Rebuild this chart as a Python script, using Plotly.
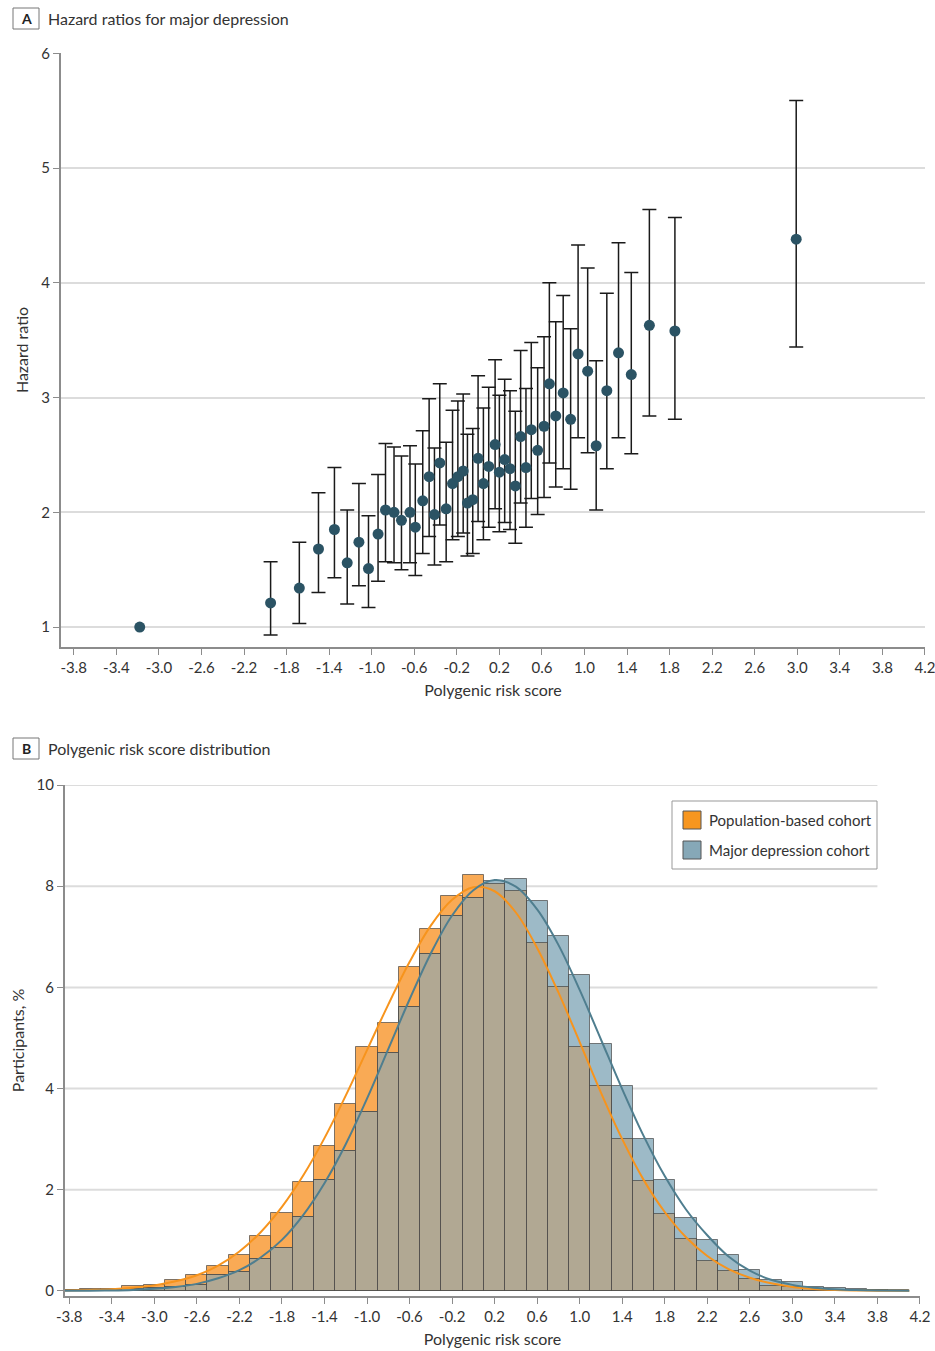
import plotly.graph_objects as go

# ---------------- Panel A data ----------------
prs_a = [-3.18, -1.95, -1.68, -1.50, -1.35, -1.23, -1.12, -1.03, -0.94, -0.87,
         -0.79, -0.72, -0.64, -0.59, -0.52, -0.46, -0.41, -0.36, -0.30, -0.24,
         -0.19, -0.14, -0.10, -0.05, 0.00, 0.05, 0.10, 0.16, 0.20, 0.25,
         0.30, 0.35, 0.40, 0.45, 0.50, 0.56, 0.62, 0.67, 0.73, 0.80,
         0.87, 0.94, 1.03, 1.11, 1.21, 1.32, 1.44, 1.61, 1.85, 2.99]
hazard_ratio = [1.00, 1.21, 1.34, 1.68, 1.85, 1.56, 1.74, 1.51, 1.81, 2.02,
                2.00, 1.93, 2.00, 1.87, 2.10, 2.31, 1.98, 2.43, 2.03, 2.25,
                2.31, 2.36, 2.08, 2.11, 2.47, 2.25, 2.40, 2.59, 2.35, 2.46,
                2.38, 2.23, 2.66, 2.39, 2.72, 2.54, 2.75, 3.12, 2.84, 3.04,
                2.81, 3.38, 3.23, 2.58, 3.06, 3.39, 3.20, 3.63, 3.58, 4.38]
ci_low = [None, 0.93, 1.03, 1.30, 1.43, 1.20, 1.36, 1.17, 1.40, 1.57,
          1.56, 1.50, 1.56, 1.45, 1.64, 1.79, 1.54, 1.89, 1.57, 1.76,
          1.79, 1.82, 1.62, 1.64, 1.92, 1.76, 1.87, 2.03, 1.83, 1.91,
          1.85, 1.73, 2.08, 1.87, 2.12, 1.98, 2.13, 2.43, 2.22, 2.38,
          2.20, 2.65, 2.52, 2.02, 2.38, 2.65, 2.51, 2.84, 2.81, 3.44]
ci_high = [None, 1.57, 1.74, 2.17, 2.39, 2.02, 2.25, 1.97, 2.33, 2.60,
           2.57, 2.49, 2.58, 2.42, 2.71, 2.99, 2.56, 3.12, 2.61, 2.89,
           2.97, 3.03, 2.68, 2.73, 3.19, 2.91, 3.09, 3.33, 3.02, 3.16,
           3.06, 2.88, 3.41, 3.08, 3.48, 3.26, 3.53, 4.00, 3.66, 3.89,
           3.60, 4.33, 4.13, 3.32, 3.91, 4.35, 4.09, 4.64, 4.57, 5.59]

# ---------------- Panel B data ----------------
bin_centers = [-3.8, -3.6, -3.4, -3.2, -3.0, -2.8, -2.6, -2.4, -2.2, -2.0,
               -1.8, -1.6, -1.4, -1.2, -1.0, -0.8, -0.6, -0.4, -0.2, 0.0,
               0.2, 0.4, 0.6, 0.8, 1.0, 1.2, 1.4, 1.6, 1.8, 2.0,
               2.2, 2.4, 2.6, 2.8, 3.0, 3.2, 3.4, 3.6, 3.8, 4.0]
population_pct = [0.02, 0.03, 0.04, 0.09, 0.12, 0.21, 0.32, 0.49, 0.72, 1.08,
                  1.54, 2.15, 2.87, 3.70, 4.82, 5.30, 6.40, 7.15, 7.80, 8.22,
                  8.05, 7.91, 6.88, 6.01, 4.82, 4.06, 3.00, 2.17, 1.52, 1.03,
                  0.59, 0.39, 0.23, 0.10, 0.07, 0.04, 0.02, 0.01, 0.01, 0.005]
depression_pct = [0.01, 0.01, 0.02, 0.03, 0.05, 0.08, 0.11, 0.31, 0.37, 0.63,
                  0.84, 1.46, 2.19, 2.77, 3.53, 4.70, 5.61, 6.65, 7.41, 7.77,
                  8.10, 8.14, 7.70, 7.02, 6.25, 4.88, 4.06, 3.00, 2.20, 1.44,
                  1.00, 0.71, 0.41, 0.22, 0.17, 0.08, 0.05, 0.03, 0.02, 0.01]

curve_x = [-3.84, -3.6, -3.4, -3.2, -3.0, -2.8, -2.6, -2.4, -2.2, -2.0,
           -1.8, -1.6, -1.4, -1.2, -1.0, -0.8, -0.6, -0.4, -0.2, 0.0,
           0.2, 0.4, 0.6, 0.8, 1.0, 1.2, 1.4, 1.6, 1.8, 2.0,
           2.2, 2.4, 2.6, 2.8, 3.0, 3.2, 3.4, 3.6, 3.8, 4.1]
population_curve = [0.008, 0.02, 0.035, 0.065, 0.11, 0.19, 0.31, 0.50, 0.78, 1.16,
                    1.66, 2.28, 3.02, 3.86, 4.76, 5.66, 6.50, 7.22, 7.73, 7.98,
                    7.90, 7.48, 6.78, 5.90, 4.92, 3.92, 3.00, 2.20, 1.56, 1.06,
                    0.69, 0.43, 0.26, 0.15, 0.08, 0.04, 0.02, 0.01, 0.005, 0.002]
depression_curve = [0.002, 0.005, 0.010, 0.021, 0.041, 0.078, 0.14, 0.25, 0.41, 0.66,
                    1.01, 1.50, 2.13, 2.90, 3.80, 4.78, 5.76, 6.67, 7.42, 7.92,
                    8.12, 7.99, 7.54, 6.84, 5.95, 4.97, 3.99, 3.07, 2.27, 1.61,
                    1.10, 0.68, 0.40, 0.22, 0.12, 0.065, 0.035, 0.018, 0.009, 0.003]

x_tick_vals = [-3.8, -3.4, -3.0, -2.6, -2.2, -1.8, -1.4, -1.0, -0.6, -0.2,
               0.2, 0.6, 1.0, 1.4, 1.8, 2.2, 2.6, 3.0, 3.4, 3.8, 4.2]
x_tick_text = ["-3.8", "-3.4", "-3.0", "-2.6", "-2.2", "-1.8", "-1.4", "-1.0", "-0.6", "-0.2",
               "0.2", "0.6", "1.0", "1.4", "1.8", "2.2", "2.6", "3.0", "3.4", "3.8", "4.2"]
hr_ticks = [1, 2, 3, 4, 5, 6]
pct_ticks = [0, 2, 4, 6, 8, 10]
legend_names = ["Population-based cohort", "Major depression cohort"]
panel_titles = ["Hazard ratios for major depression", "Polygenic risk score distribution"]

# ---------------- styling ----------------
FONT = "Lato"
TXT = "#333333"
AXC = "#8c8c8c"
GRID = "#dcdcdc"
ORANGE_LINE = "#F7941D"
BLUE_LINE = "#4F7E8F"
ORANGE_FILL = "#F9AA55"
BLUE_FILL = "#9DBAC7"
OVERLAP_FILL = "#B1A893"
BAR_EDGE = "rgba(60,60,60,0.65)"
W, H = 935, 1351


def px(x):
    return x / W


def py(y):
    return 1 - y / H


fig = go.Figure()

# "NaN" strings make plotly skip the error bar of the reference group
err_plus = ["NaN" if h is None else h - m for h, m in zip(ci_high, hazard_ratio)]
err_minus = ["NaN" if l is None else m - l for l, m in zip(ci_low, hazard_ratio)]

fig.add_trace(go.Scatter(
    x=prs_a, y=hazard_ratio, mode="markers",
    marker=dict(size=11, color="#2B5364", line=dict(width=0)),
    error_y=dict(type="data", symmetric=False, array=err_plus, arrayminus=err_minus,
                 color="#1a1a1a", thickness=1.5, width=7),
    xaxis="x", yaxis="y", showlegend=False,
))

overlap = [min(a, b) for a, b in zip(population_pct, depression_pct)]
fig.add_trace(go.Bar(x=bin_centers, y=population_pct, width=0.2, name=legend_names[0],
                     marker=dict(color=ORANGE_FILL, line=dict(color=BAR_EDGE, width=1)),
                     xaxis="x2", yaxis="y2", showlegend=False))
fig.add_trace(go.Bar(x=bin_centers, y=depression_pct, width=0.2, name=legend_names[1],
                     marker=dict(color=BLUE_FILL, line=dict(color=BAR_EDGE, width=1)),
                     xaxis="x2", yaxis="y2", showlegend=False))
fig.add_trace(go.Bar(x=bin_centers, y=overlap, width=0.2, name="overlap",
                     marker=dict(color=OVERLAP_FILL, line=dict(color=BAR_EDGE, width=1)),
                     xaxis="x2", yaxis="y2", showlegend=False))
fig.add_trace(go.Scatter(x=curve_x, y=population_curve, mode="lines", line_shape="spline",
                         line=dict(color=ORANGE_LINE, width=2), xaxis="x2", yaxis="y2",
                         showlegend=False))
fig.add_trace(go.Scatter(x=curve_x, y=depression_curve, mode="lines", line_shape="spline",
                         line=dict(color=BLUE_LINE, width=2), xaxis="x2", yaxis="y2",
                         showlegend=False))

tickfont = dict(family=FONT, size=15, color=TXT)
titlefont = dict(family=FONT, size=16, color=TXT)
common_x = dict(tickvals=x_tick_vals, ticktext=x_tick_text, showgrid=False, zeroline=False,
                showline=True, linecolor=AXC, linewidth=2, ticks="outside", ticklen=6,
                tickcolor=AXC, tickwidth=1, tickfont=tickfont, automargin=False,
                ticklabeloverflow="allow")
common_y = dict(zeroline=False, showline=True, linecolor=AXC, linewidth=2,
                ticks="outside", ticklen=6, tickcolor=AXC, tickwidth=1, tickfont=tickfont,
                automargin=False)

shapes = []
for v in pct_ticks[1:]:
    shapes.append(dict(type="line", xref="x2", yref="y2", x0=-3.84, x1=3.8, y0=v, y1=v,
                       line=dict(color=GRID, width=2), layer="below"))

annotations = []
# panel labels
for letter, title, ytop in [("A", panel_titles[0], 8), ("B", panel_titles[1], 738)]:
    shapes.append(dict(type="rect", xref="paper", yref="paper", x0=px(13), x1=px(39),
                       y0=py(ytop + 21), y1=py(ytop), line=dict(color="#777777", width=1)))
    annotations.append(dict(text="<b>" + letter + "</b>", xref="paper", yref="paper",
                            x=px(26), y=py(ytop + 10.5), showarrow=False,
                            xanchor="center", yanchor="middle",
                            font=dict(family=FONT, size=14, color="#222222")))
    annotations.append(dict(text=title, xref="paper", yref="paper", x=px(46), y=py(ytop + 10.5),
                            showarrow=False, xanchor="left", yanchor="middle",
                            font=dict(family=FONT, size=16, color=TXT)))

# legend box
shapes.append(dict(type="rect", xref="paper", yref="paper", x0=px(672), x1=px(877),
                   y0=py(869), y1=py(801), line=dict(color="#999999", width=1),
                   fillcolor="white"))
for i, (name, col) in enumerate(zip(legend_names, ["#F7961F", "#86A8B7"])):
    yc = 820 + 30 * i
    shapes.append(dict(type="rect", xref="paper", yref="paper", x0=px(683), x1=px(701),
                       y0=py(yc + 9), y1=py(yc - 9), fillcolor=col,
                       line=dict(color="#555555", width=1)))
    annotations.append(dict(text=name, xref="paper", yref="paper", x=px(707), y=py(yc),
                            showarrow=False, xanchor="left", yanchor="middle",
                            font=dict(family=FONT, size=15, color=TXT)))

fig.update_layout(
    width=W, height=H, margin=dict(l=0, r=0, t=0, b=0, autoexpand=False),
    paper_bgcolor="white", plot_bgcolor="white",
    barmode="overlay", bargap=0,
    font=dict(family=FONT, color=TXT),
    xaxis=dict(domain=[px(61), px(925)], anchor="y", range=[-3.92, 4.2005],
               title=dict(text="Polygenic risk score", font=titlefont, standoff=10), **common_x),
    yaxis=dict(domain=[py(647), py(53)], anchor="x", range=[0.826, 6.003],
               tickvals=hr_ticks, showgrid=True, gridcolor=GRID, gridwidth=2,
               title=dict(text="Hazard ratio", font=titlefont, standoff=9), **common_y),
    xaxis2=dict(domain=[px(65), px(920)], anchor="y2", range=[-3.84, 4.2005],
                title=dict(text="Polygenic risk score", font=titlefont, standoff=10), **common_x),
    yaxis2=dict(domain=[py(1296), py(785)], anchor="x2", range=[-0.1, 10.0],
                tickvals=pct_ticks, showgrid=False,
                title=dict(text="Participants, %", font=titlefont, standoff=8), **common_y),
    shapes=shapes, annotations=annotations,
)

fig.write_html("out.html")
